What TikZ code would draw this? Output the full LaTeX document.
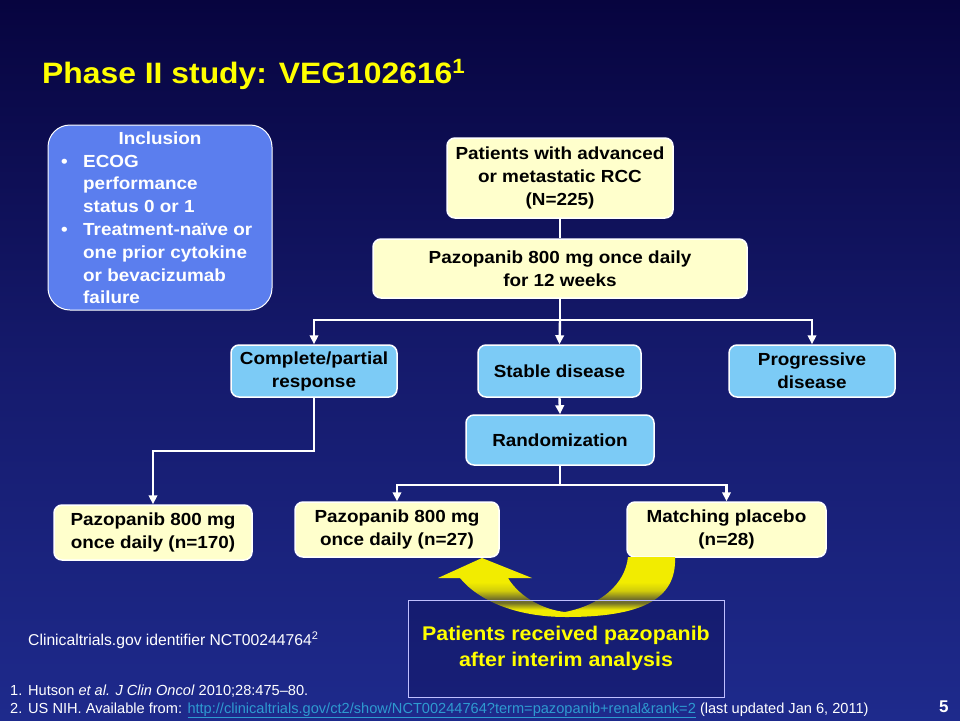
\documentclass[tikz,border=0pt]{standalone}
\usepackage{fontspec}
\setmainfont{Liberation Sans}
\newfontfamily\wideff[FakeStretch=1.08]{Liberation Sans}
\usetikzlibrary{arrows.meta,calc}
\definecolor{bgtop}{HTML}{07043F}
\definecolor{bgmid}{HTML}{151A6C}
\definecolor{bgbot}{HTML}{1E2A8C}
\definecolor{cream}{HTML}{FFFFCC}
\definecolor{lblue}{HTML}{7CCBF6}
\definecolor{incl}{HTML}{5B7EEE}
\definecolor{ttlyel}{HTML}{FFFF00}
\definecolor{arrowyel}{HTML}{F2EC00}
\definecolor{arrowdark}{HTML}{6F6D2A}
\definecolor{linkcol}{HTML}{2E9AD0}
\newcommand\fsz[2]{\fontsize{#1}{#2}\selectfont}
\pgfdeclareverticalshading{yelband}{100bp}{%
  color(0bp)=(arrowyel); color(31bp)=(arrowyel); color(37bp)=(arrowdark);
  color(40bp)=(arrowdark); color(47bp)=(arrowyel!75!arrowdark); color(54bp)=(arrowyel); color(100bp)=(arrowyel)}
\tikzset{
  ybox/.style={draw=white, line width=1.5pt, rounded corners=8pt, fill=cream, text=black,
    font=\wideff\bfseries\fsz{17.5}{23}, align=center, inner sep=0pt},
  bbox/.style={draw=white, line width=1.5pt, rounded corners=8pt, fill=lblue, text=black,
    font=\wideff\bfseries\fsz{17.5}{23}, align=center, inner sep=0pt},
  conn/.style={draw=white, line width=2.4pt},
  carr/.style={conn, -{Triangle[width=8.5pt,length=9pt]}},
  foot/.style={anchor=base west, text=white, font=\fsz{14.6}{17}, inner sep=0pt},
}
\begin{document}
\begin{tikzpicture}[x=1pt,y=-1pt]
\useasboundingbox (0,0) rectangle (960,720);
\shade[top color=bgtop, bottom color=bgbot, middle color=bgmid] (0,0) rectangle (960,720);

% title
\node[anchor=base west, text=ttlyel, font=\wideff\bfseries\fsz{29.5}{34}, inner sep=0pt] (title) at (42,83)
  {Phase II study: VEG102616\textsuperscript{1}};

% inclusion box
\draw[draw=white, line width=1pt, rounded corners=22pt, fill=incl] (48,125) rectangle (272,310);
\node[text=white, font=\wideff\bfseries\fsz{17.5}{23}, inner sep=0pt, anchor=base] (inclt) at (160,144) {Inclusion};
\node[text=white, font=\wideff\bfseries\fsz{17.5}{22.8}, inner sep=0pt, anchor=north west, align=left] (incll) at (61,151)
  {\begin{tabular}{@{}l@{}l@{}}
   \makebox[22pt][l]{\textbullet} & ECOG\\
   & performance\\
   & status 0 or 1\\
   \makebox[22pt][l]{\textbullet} & Treatment-naïve or\\
   & one prior cytokine\\
   & or bevacizumab\\
   & failure
   \end{tabular}};

% flow boxes
\node[ybox, minimum width=226pt, minimum height=80pt] (pat) at (560,178)
  {Patients with advanced\\or metastatic RCC\\(N=225)};
\node[ybox, minimum width=374pt, minimum height=59pt] (paz) at (560,268.5)
  {Pazopanib 800 mg once daily\\for 12 weeks};
\node[bbox, minimum width=166pt, minimum height=52pt] (cpr) at (314,371)
  {Complete/partial\\response};
\node[bbox, minimum width=163pt, minimum height=52pt] (sd) at (559.5,371)
  {Stable disease};
\node[bbox, minimum width=166pt, minimum height=52pt] (pd) at (812,371)
  {Progressive\\disease};
\node[bbox, minimum width=188pt, minimum height=50pt] (rnd) at (560,440)
  {Randomization};
\node[ybox, minimum width=198pt, minimum height=55pt] (p170) at (153,532.5)
  {Pazopanib 800 mg\\once daily (n=170)};
\node[ybox, minimum width=204pt, minimum height=55pt] (p27) at (397,529.5)
  {Pazopanib 800 mg\\once daily (n=27)};
\node[ybox, minimum width=199pt, minimum height=55pt] (plc) at (726.5,529.5)
  {Matching placebo\\(n=28)};

% connectors
\draw[conn] (pat.south) -- (paz.north);
\coordinate (j1) at (560,320);
\draw[conn] (paz.south) -- (j1);
\draw[carr] (j1) -| (cpr.north);
\draw[carr] (j1) -| (pd.north);
\draw[carr] (j1) -- (sd.north);
\draw[carr] (sd.south) -- (rnd.north);
\coordinate (j2) at (560,485);
\draw[conn] (rnd.south) -- (j2);
\draw[carr] (j2) -| (p27.north);
\draw[carr] (j2) -| (plc.north);
\coordinate (lvl) at (0,451);
\draw[carr] (cpr.south) -- (cpr.south |- lvl) -| (p170.north);

% interim box fill
\fill[bgtop, opacity=0.25] (408,600) rectangle (724,697);

% curved arrow
\shade[shading=yelband]
  (675,557) .. controls (677,600) and (640,617) .. (566,617)
  .. controls (515,617) and (478,600) .. (460,578)
  -- (438,578) -- (482,558) -- (532,578) -- (508,578)
  .. controls (520,598) and (545,610) .. (565,612)
  .. controls (600,605) and (625,585) .. (628,557) -- cycle;

\node[draw=white!75!blue, line width=0.8pt, minimum width=316pt, minimum height=97pt, inner sep=0pt,
  text=ttlyel, font=\wideff\bfseries\fsz{19.8}{26}, align=center] (interim) at (566,648.5)
  {Patients received pazopanib\\after interim analysis};

% footer
\node[foot, font=\fsz{15.7}{17}] (ctg) at (28,645)
  {Clinicaltrials.gov identifier NCT00244764\textsuperscript{2}};
\node[foot] (r1n) at (10,695) {1.};
\node[foot] (r1) at (28,695)
  {Hutson \textit{et al.} \textit{J Clin Oncol} 2010;28:475–80.};
\node[foot] (r2n) at (10,713) {2.};
\node[foot] (r2) at (28,713)
  {US NIH. Available from: \textcolor{linkcol}{\underline{http://clinicaltrials.gov/ct2/show/NCT00244764?term=pazopanib+renal\&rank=2}} (last updated Jan 6, 2011)};
\node[anchor=base west, text=white, font=\bfseries\fsz{17}{20}, inner sep=0pt] (pg) at (939,712) {5};
\end{tikzpicture}
\end{document}
